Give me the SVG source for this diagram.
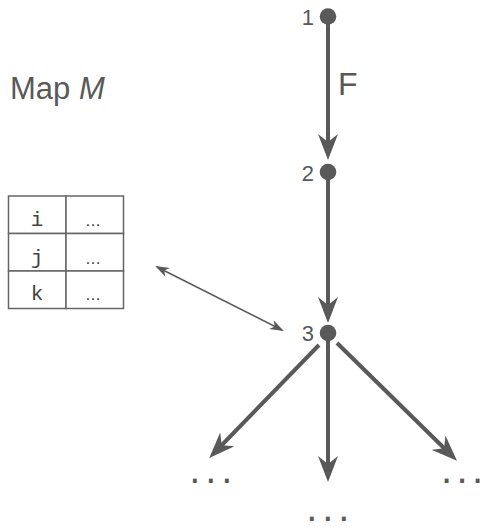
<svg xmlns="http://www.w3.org/2000/svg" width="483" height="529" viewBox="0 0 483 529">
<style>
.lbl{font-family:"Liberation Sans",Arial,sans-serif;fill:#595959}
.mono{font-family:"Liberation Mono","Courier New",monospace;fill:#444}
.dots{font-family:"Liberation Sans",Arial,sans-serif;fill:#595959;font-size:40px}
.edge{stroke:#595959;stroke-width:4;fill:none}
.thin{stroke:#595959;stroke-width:1.5;fill:none}
.node{fill:#595959}
.cell{fill:#fff;stroke:#666;stroke-width:1.5}
</style>
<defs>
<marker id="ah" markerUnits="userSpaceOnUse" markerWidth="26" markerHeight="20" viewBox="0 0 26 20" refX="12" refY="10" orient="auto">
<path d="M0,0 L26,10 L0,20 L8,10 z" fill="#595959"/>
</marker>
<marker id="ahs" markerUnits="userSpaceOnUse" markerWidth="14" markerHeight="10" viewBox="0 0 14 10" refX="12" refY="5" orient="auto">
<path d="M0,0 L14,5 L0,10 L4,5 z" fill="#595959"/>
</marker>
<marker id="ahsr" markerUnits="userSpaceOnUse" markerWidth="14" markerHeight="10" viewBox="0 0 14 10" refX="12" refY="5" orient="auto-start-reverse">
<path d="M0,0 L14,5 L0,10 L4,5 z" fill="#595959"/>
</marker>
</defs>

<text class="lbl" x="10" y="99" font-size="31">Map <tspan font-style="italic">M</tspan></text>

<g id="edges">
<line class="edge" x1="328" y1="17" x2="328" y2="146" marker-end="url(#ah)"/>
<text class="lbl" x="338" y="95" font-size="32">F</text>
<line class="edge" x1="328" y1="172" x2="328" y2="309" marker-end="url(#ah)"/>
<line class="edge" x1="319" y1="345" x2="219" y2="448" marker-end="url(#ah)"/>
<line class="edge" x1="328" y1="333" x2="328" y2="468" marker-end="url(#ah)"/>
<line class="edge" x1="337" y1="343" x2="447" y2="451" marker-end="url(#ah)"/>
<line class="thin" x1="157" y1="267" x2="282" y2="330" marker-start="url(#ahsr)" marker-end="url(#ahs)"/>
</g>

<g id="n1">
<circle class="node" cx="328" cy="16.5" r="8.3"/>
<text class="lbl" x="314" y="25" font-size="22" text-anchor="end">1</text>
</g>
<g id="n2">
<circle class="node" cx="328" cy="172" r="8.3"/>
<text class="lbl" x="314" y="181" font-size="22" text-anchor="end">2</text>
</g>
<g id="n3">
<circle class="node" cx="328" cy="333" r="8.3"/>
<text class="lbl" x="314" y="341" font-size="22" text-anchor="end">3</text>
</g>

<g id="dots-left"><text class="dots" x="189.2" y="483" dx="0 4.9 4.9">...</text></g>
<g id="dots-mid"><text class="dots" x="306.2" y="520.5" dx="0 4.9 4.9">...</text></g>
<g id="dots-right"><text class="dots" x="441" y="483" dx="0 4.4 4.4">...</text></g>

<g id="map-table">
<rect class="cell" x="8.5" y="196" width="57.5" height="37.5"/>
<rect class="cell" x="66" y="196" width="57.5" height="37.5"/>
<rect class="cell" x="8.5" y="233.5" width="57.5" height="37.5"/>
<rect class="cell" x="66" y="233.5" width="57.5" height="37.5"/>
<rect class="cell" x="8.5" y="271" width="57.5" height="37.5"/>
<rect class="cell" x="66" y="271" width="57.5" height="37.5"/>
<text class="mono" x="37" y="226" font-size="21" text-anchor="middle">i</text>
<text class="mono" x="37" y="263.5" font-size="21" text-anchor="middle">j</text>
<text class="mono" x="37" y="300" font-size="21" text-anchor="middle">k</text>
<text class="lbl" x="93" y="226" font-size="16" text-anchor="middle" style="fill:#333">…</text>
<text class="lbl" x="93" y="263.5" font-size="16" text-anchor="middle" style="fill:#333">…</text>
<text class="lbl" x="93" y="300" font-size="16" text-anchor="middle" style="fill:#333">…</text>
</g>
</svg>
